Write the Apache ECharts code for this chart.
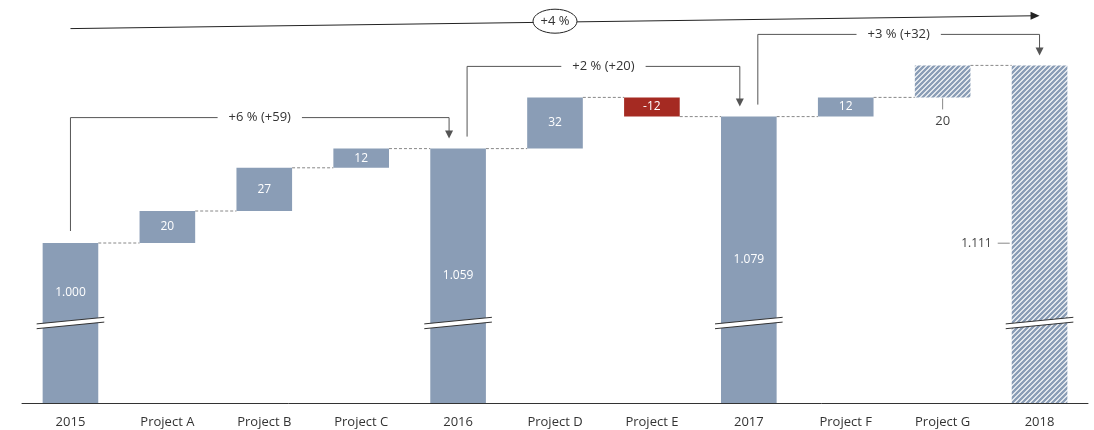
<!DOCTYPE html>
<html><head><meta charset="utf-8">
<script src="https://cdn.jsdelivr.net/npm/echarts@6/dist/echarts.min.js"></script>
<style>html,body{margin:0;padding:0;background:#fff}#c{width:1094px;height:430px}</style>
</head><body><div id="c"></div>
<script>
// ---- data ----
const categories = ['2015','Project A','Project B','Project C','2016','Project D','Project E','2017','Project F','Project G','2018'];
const values = [1000, 20, 27, 12, 1059, 32, -12, 1079, 12, 20, 1111];
const kinds = ['total','delta','delta','delta','total','delta','delta','total','delta','delta','total'];
const valueLabels = ['1.000','20','27','12','1.059','32','-12','1.079','12','20','1.111'];
const hatched = [false,false,false,false,false,false,false,false,false,true,true];
const bracketFrom = [0, 4, 7];
const bracketTo = [4, 7, 10];
const bracketLabels = ['+6 % (+59)', '+2 % (+20)', '+3 % (+32)'];
const cagrLabel = '+4 %';
const cagrFrom = 0, cagrTo = 10;
const cagrLevels = [1134, 1142];
const axisMin = 900, axisMax = 1150, breakValue = 950;

// ---- styles ----
const BLUE = '#8a9db6', RED = '#a52a22', FONT = '"Open Sans", "Noto Sans", sans-serif';
const BAR_RATIO = 0.574;

function makePattern() {
  const p = 5, s = 20;
  const c = document.createElement('canvas'); c.width = s; c.height = s;
  const ctx = c.getContext('2d');
  ctx.fillStyle = '#fff'; ctx.fillRect(0, 0, s, s);
  ctx.strokeStyle = BLUE; ctx.lineWidth = 2.4; ctx.lineCap = 'square';
  ctx.beginPath();
  for (let k = -6; k <= 6; k++) { ctx.moveTo(k * p - 3, s + 3); ctx.lineTo(k * p + s + 3, -3); }
  ctx.stroke();
  return c;
}
const pattern = { image: makePattern(), repeat: 'repeat' };

// running totals
let run = 0;
const rows = values.map((v, i) => {
  let lo, hi;
  if (kinds[i] === 'total') { lo = axisMin; hi = v; run = v; }
  else { lo = Math.min(run, run + v); hi = Math.max(run, run + v); run += v; }
  return [i, lo, hi, run];
});
const connectors = rows.slice(0, -1).map(r => [r[0], r[3]]);
const brackets = bracketFrom.map((f, k) => [f, bracketTo[k], k]);

function barW(api) { return api.size([1, 0])[0] * BAR_RATIO; }

function renderBar(params, api) {
  const i = api.value(0), lo = api.value(1), hi = api.value(2);
  const top = api.coord([i, hi]), bot = api.coord([i, lo]);
  const bw = barW(api), x = top[0] - bw / 2, cx = top[0];
  const ch = [];
  const fill = hatched[i] ? pattern : (values[i] < 0 ? RED : BLUE);
  ch.push({ type: 'rect', shape: { x: x, y: top[1], width: bw, height: bot[1] - top[1] }, style: { fill: fill } });
  let breakY = null;
  if (kinds[i] === 'total') {
    const b = api.coord([i, breakValue]);
    breakY = b[1];
    const hw = bw / 2 + 6, dy = 3.3, t = 2.4;
    ch.push({ type: 'polygon', shape: { points: [[cx - hw, breakY + dy - t], [cx + hw, breakY - dy - t], [cx + hw, breakY - dy + t], [cx - hw, breakY + dy + t]] }, style: { fill: '#fff' } });
    ch.push({ type: 'line', shape: { x1: cx - hw, y1: breakY + dy - t, x2: cx + hw, y2: breakY - dy - t }, style: { stroke: '#333', lineWidth: 1 } });
    ch.push({ type: 'line', shape: { x1: cx - hw, y1: breakY + dy + t, x2: cx + hw, y2: breakY - dy + t }, style: { stroke: '#333', lineWidth: 1 } });
  }
  const txt = valueLabels[i];
  if (!hatched[i]) {
    let ly = (top[1] + bot[1]) / 2;
    if (breakY !== null) ly = Math.min(ly, breakY - 30);
    ch.push({ type: 'text', style: { text: txt, x: cx, y: ly, fill: '#fff', fontSize: 12, fontFamily: FONT, align: 'center', verticalAlign: 'middle' } });
  } else if (kinds[i] === 'total') {
    const ly = (top[1] + bot[1]) / 2 + 9;
    ch.push({ type: 'line', shape: { x1: x - 14, y1: ly, x2: x - 2, y2: ly }, style: { stroke: '#888', lineWidth: 1 } });
    ch.push({ type: 'text', style: { text: txt, x: x - 20, y: ly, fill: '#444', fontSize: 12, fontFamily: FONT, align: 'right', verticalAlign: 'middle' } });
  } else {
    ch.push({ type: 'line', shape: { x1: cx, y1: bot[1] + 1, x2: cx, y2: bot[1] + 12 }, style: { stroke: '#888', lineWidth: 1 } });
    ch.push({ type: 'text', style: { text: txt, x: cx, y: bot[1] + 24, fill: '#444', fontSize: 13, fontFamily: FONT, align: 'center', verticalAlign: 'middle' } });
  }
  return { type: 'group', children: ch };
}

function renderConnector(params, api) {
  const i = api.value(0), lv = api.value(1);
  const bw = barW(api);
  const p1 = api.coord([i, lv]), p2 = api.coord([i + 1, lv]);
  return { type: 'line', shape: { x1: p1[0] + bw / 2, y1: p1[1], x2: p2[0] - bw / 2, y2: p2[1] }, style: { stroke: '#888', lineWidth: 1, lineDash: [3, 2] } };
}

function renderBracket(params, api) {
  const f = api.value(0), t = api.value(1), k = api.value(2);
  let minY = Infinity;
  for (let j = f; j <= t; j++) minY = Math.min(minY, api.coord([j, rows[j][2]])[1]);
  const levelY = minY - 31;
  const hasIn = bracketTo.indexOf(f) >= 0, hasOut = bracketFrom.indexOf(t) >= 0;
  const xF = api.coord([f, rows[f][2]])[0] + (hasIn ? 9 : 0);
  const yF = api.coord([f, rows[f][2]])[1] - 12;
  const xT = api.coord([t, rows[t][2]])[0] - (hasOut ? 9 : 0);
  const tipY = api.coord([t, rows[t][2]])[1] - 10;
  const col = '#555';
  return { type: 'group', children: [
    { type: 'polyline', shape: { points: [[xF, yF], [xF, levelY], [xT, levelY], [xT, tipY - 7]] }, style: { stroke: col, lineWidth: 1, fill: null } },
    { type: 'polygon', shape: { points: [[xT - 4, tipY - 8], [xT + 4, tipY - 8], [xT, tipY]] }, style: { fill: col } },
    { type: 'text', style: { text: bracketLabels[k], x: (xF + xT) / 2, y: levelY, fill: '#333', fontSize: 13, fontFamily: FONT, align: 'center', verticalAlign: 'middle', backgroundColor: '#fff', padding: [2, 11] } }
  ] };
}

function renderCagr(params, api) {
  const p0 = api.coord([api.value(0), api.value(2)]);
  const p1 = api.coord([api.value(1), api.value(3)]);
  const mx = (p0[0] + p1[0]) / 2, my = (p0[1] + p1[1]) / 2 - 1;
  return { type: 'group', children: [
    { type: 'line', shape: { x1: p0[0], y1: p0[1], x2: p1[0] - 8, y2: p1[1] }, style: { stroke: '#222', lineWidth: 1 } },
    { type: 'polygon', shape: { points: [[p1[0] - 9, p1[1] - 4], [p1[0] - 9, p1[1] + 4], [p1[0], p1[1]]] }, style: { fill: '#222' } },
    { type: 'ellipse', shape: { cx: mx, cy: my, rx: 22, ry: 12 }, style: { fill: '#fff', stroke: '#222', lineWidth: 1 } },
    { type: 'text', style: { text: cagrLabel, x: mx, y: my, fill: '#333', fontSize: 13, fontFamily: FONT, align: 'center', verticalAlign: 'middle' } }
  ] };
}

const chart = echarts.init(document.getElementById('c'));
chart.setOption({
  animation: false,
  grid: { left: 22, right: 6, top: 3, bottom: 27 },
  xAxis: {
    type: 'category', data: categories, boundaryGap: true,
    axisLine: { lineStyle: { color: '#333', width: 1 } }, axisTick: { show: false },
    axisLabel: { color: '#333', fontSize: 13, fontFamily: FONT, margin: 13 }
  },
  yAxis: { type: 'value', min: axisMin, max: axisMax, show: false, splitLine: { show: false } },
  series: [
    { type: 'custom', renderItem: renderConnector, data: connectors, z: 1 },
    { type: 'custom', renderItem: renderBar, data: rows, z: 2 },
    { type: 'custom', renderItem: renderBracket, data: brackets, z: 3 },
    { type: 'custom', renderItem: renderCagr, data: [[cagrFrom, cagrTo, cagrLevels[0], cagrLevels[1]]], z: 4 }
  ]
});
</script></body></html>
